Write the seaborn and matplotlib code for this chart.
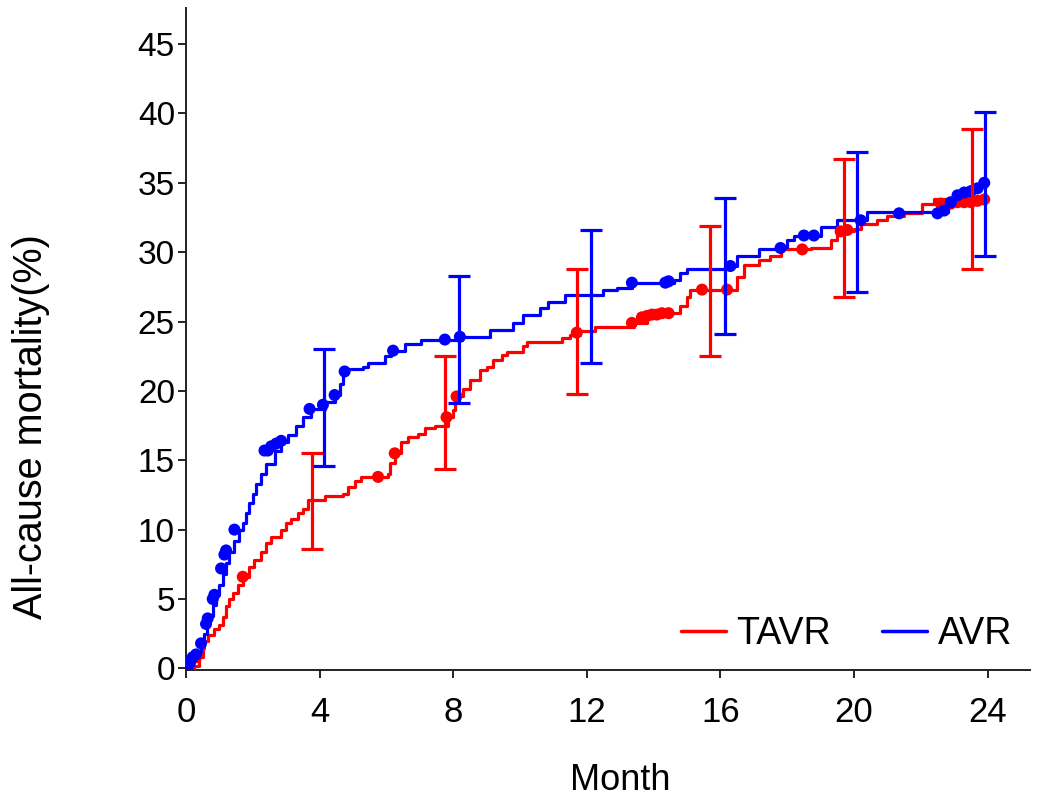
import matplotlib
matplotlib.use('Agg')
import matplotlib.pyplot as plt
from matplotlib.lines import Line2D
import seaborn as sns
import pandas as pd

# Kaplan-Meier style cumulative mortality (step change points)
tavr_t = [0, 0.25, 0.4, 0.5, 0.55, 0.65, 0.85, 1.0, 1.1, 1.2, 1.3, 1.4, 1.55, 1.7, 1.9, 2.05,
          2.25, 2.4, 2.55, 2.85, 3.0, 3.15, 3.35, 3.5, 3.65, 4.15, 4.7, 4.85, 5.05, 5.25, 6.05,
          6.1, 6.25, 6.45, 6.65, 6.95, 7.15, 7.45, 7.85, 8.0, 8.05, 8.3, 8.5, 8.8, 9.0, 9.2,
          9.45, 9.6, 10.1, 10.2, 11.25, 11.5, 11.8, 12.25, 13.4, 13.8, 14.2, 14.8, 15.0, 15.1,
          16.5, 16.7, 17.15, 17.5, 17.8, 18.7, 19.3, 19.5, 20.0, 20.2, 20.7, 21.0, 21.5, 22.05,
          22.4, 24.0]
tavr_y = [0, 0.2, 0.8, 1.5, 2.0, 2.4, 2.8, 3.1, 3.7, 4.5, 5.0, 5.4, 6.0, 6.6, 7.3, 7.8,
          8.4, 9.0, 9.5, 10.0, 10.5, 10.8, 11.2, 11.5, 12.1, 12.4, 12.6, 13.1, 13.5, 13.8, 14.0,
          14.8, 15.5, 16.3, 16.7, 16.9, 17.3, 17.5, 18.1, 18.6, 19.6, 20.1, 20.8, 21.5, 21.7, 22.2,
          22.6, 22.8, 23.2, 23.5, 23.8, 24.0, 24.3, 24.6, 24.9, 25.4, 25.6, 26.1, 26.8, 27.3,
          28.2, 29.1, 29.4, 29.7, 30.2, 30.3, 30.9, 31.5, 31.7, 32.0, 32.3, 32.6, 32.8, 33.5,
          33.8, 33.8]

avr_t = [0, 0.1, 0.2, 0.3, 0.45, 0.55, 0.62, 0.7, 0.8, 0.9, 1.0, 1.1, 1.2, 1.3, 1.45, 1.6,
         1.7, 1.8, 1.9, 2.0, 2.1, 2.25, 2.4, 2.65, 2.85, 3.05, 3.3, 3.5, 3.75, 4.15, 4.45, 4.6,
         4.7, 4.8, 5.3, 5.45, 5.95, 6.15, 6.55, 7.05, 8.25, 9.1, 9.8, 10.1, 10.6, 10.85, 11.35,
         12.5, 12.9, 13.35, 14.6, 14.8, 15.0, 16.3, 16.5, 17.15, 17.8, 18.0, 18.2, 19.0, 19.5,
         20.4, 22.8, 23.0, 23.4, 23.7, 23.9, 24.0]
avr_y = [0, 0.4, 0.8, 1.2, 1.8, 2.5, 3.2, 3.8, 4.6, 5.3, 6.0, 6.8, 7.6, 8.4, 9.2, 10.0,
         10.5, 11.2, 11.9, 12.6, 13.3, 14.0, 14.7, 15.7, 16.3, 16.8, 17.5, 18.1, 18.7, 19.2, 19.7, 20.5,
         21.3, 21.6, 21.7, 22.0, 22.5, 22.9, 23.4, 23.7, 23.9, 24.4, 24.9, 25.5, 26.0, 26.4, 26.9,
         27.3, 27.4, 27.8, 28.0, 28.5, 28.8, 29.0, 29.7, 30.2, 30.4, 30.9, 31.2, 31.8, 32.3,
         32.9, 33.4, 34.0, 34.4, 34.7, 35.0, 35.0]

# censored observations
tavr_cens_t = [0.1, 0.3, 1.7, 5.75, 6.25, 7.8, 8.1, 11.7, 13.35, 13.65, 13.8, 13.95, 14.1,
               14.25, 14.45, 15.45, 16.2, 18.45, 19.6, 19.8, 22.6, 22.9, 23.1, 23.3, 23.5, 23.7, 23.9]
tavr_cens_y = [0.1, 0.8, 6.6, 13.8, 15.5, 18.1, 19.6, 24.2, 24.9, 25.3, 25.4, 25.5, 25.5,
               25.6, 25.6, 27.3, 27.3, 30.2, 31.5, 31.6, 33.5, 33.5, 33.6, 33.6, 33.6, 33.7, 33.8]
avr_cens_t = [0.05, 0.12, 0.2, 0.3, 0.45, 0.6, 0.65, 0.8, 0.85, 1.05, 1.15, 1.2, 1.45, 2.35,
              2.45, 2.55, 2.7, 2.85, 3.7, 4.1, 4.45, 4.75, 6.2, 7.75, 8.2, 13.35, 14.35, 14.45,
              16.3, 17.8, 18.5, 18.8, 20.2, 21.35, 22.5, 22.7, 22.9, 23.1, 23.3, 23.5, 23.7, 23.9]
avr_cens_y = [0.0, 0.4, 0.8, 1.0, 1.8, 3.2, 3.6, 5.0, 5.3, 7.2, 8.2, 8.5, 10.0, 15.7,
              15.7, 16.0, 16.2, 16.4, 18.7, 19.0, 19.7, 21.4, 22.9, 23.7, 23.9, 27.8, 27.8, 27.9,
              29.0, 30.3, 31.2, 31.2, 32.3, 32.8, 32.8, 33.0, 33.6, 34.1, 34.3, 34.4, 34.6, 35.0]

# 95% CI at 4, 8, 12, 16, 20, 24 months (bars drawn slightly offset)
tavr_ci_x = [3.76, 7.76, 11.72, 15.7, 19.7, 23.52]
tavr_ci_mid = [12.1, 18.4, 24.1, 27.1, 31.4, 33.8]
tavr_ci_lo = [8.6, 14.4, 19.8, 22.5, 26.8, 28.8]
tavr_ci_hi = [15.5, 22.5, 28.8, 31.9, 36.7, 38.9]
avr_ci_x = [4.13, 8.17, 12.13, 16.15, 20.1, 23.92]
avr_ci_mid = [19.0, 23.8, 26.9, 29.0, 32.2, 34.9]
avr_ci_lo = [14.6, 19.1, 22.0, 24.1, 27.1, 29.7]
avr_ci_hi = [23.0, 28.3, 31.6, 33.9, 37.2, 40.1]

x_ticks = [0, 4, 8, 12, 16, 20, 24]
y_ticks = [0, 5, 10, 15, 20, 25, 30, 35, 40, 45]

RED = '#FF0000'
BLUE = '#0000FF'

sns.set_style('ticks')
plt.rcParams['font.family'] = ['Liberation Sans', 'DejaVu Sans']
plt.rcParams['text.color'] = 'black'
plt.rcParams['axes.labelcolor'] = 'black'
plt.rcParams['xtick.color'] = '#222222'
plt.rcParams['ytick.color'] = '#222222'
plt.rcParams['xtick.labelcolor'] = 'black'
plt.rcParams['ytick.labelcolor'] = 'black'

fig = plt.figure(figsize=(10.41, 7.97), dpi=100)
ax = fig.add_axes([186 / 1041, 1 - 670 / 797, (1030 - 186) / 1041, (670 - 8) / 797])

curves = pd.concat([
    pd.DataFrame({'Month': tavr_t, 'Mortality': tavr_y, 'Group': 'TAVR'}),
    pd.DataFrame({'Month': avr_t, 'Mortality': avr_y, 'Group': 'AVR'}),
])
cens = pd.concat([
    pd.DataFrame({'Month': tavr_cens_t, 'Mortality': tavr_cens_y, 'Group': 'TAVR'}),
    pd.DataFrame({'Month': avr_cens_t, 'Mortality': avr_cens_y, 'Group': 'AVR'}),
])
pal = {'TAVR': RED, 'AVR': BLUE}

sns.lineplot(data=curves, x='Month', y='Mortality', hue='Group', palette=pal,
             estimator=None, sort=False, drawstyle='steps-post', linewidth=2.3,
             legend=False, ax=ax, zorder=3)
sns.scatterplot(data=cens, x='Month', y='Mortality', hue='Group', palette=pal,
                s=75, linewidth=0, legend=False, ax=ax, zorder=4)

for xs, mid, lo, hi, c in [(tavr_ci_x, tavr_ci_mid, tavr_ci_lo, tavr_ci_hi, RED),
                           (avr_ci_x, avr_ci_mid, avr_ci_lo, avr_ci_hi, BLUE)]:
    yerr = [[m - l for m, l in zip(mid, lo)], [h - m for m, h in zip(mid, hi)]]
    ax.errorbar(xs, mid, yerr=yerr, fmt='none', ecolor=c, elinewidth=2.3,
                capsize=8, capthick=2.3, zorder=5)

ax.set_xlim(0, 25.27)
ax.set_ylim(-0.12, 47.6)
ax.set_xticks(x_ticks)
ax.set_yticks(y_ticks)
ax.tick_params(axis='both', direction='out', length=6, width=1.4)
ax.tick_params(axis='y', labelsize=24, pad=2)
ax.tick_params(axis='x', labelsize=25, pad=13)
for s in ['top', 'right']:
    ax.spines[s].set_visible(False)
for s in ['left', 'bottom']:
    ax.spines[s].set_linewidth(1.4)
    ax.spines[s].set_color('#222222')

ax.set_xlabel('Month', fontsize=26)
ax.xaxis.set_label_coords(0.514, -0.14)
ax.set_ylabel('All-cause mortality(%)', fontsize=28.5)
ax.yaxis.set_label_coords(-0.161, 0.367)

handles = [Line2D([0], [0], color=RED, lw=2.5), Line2D([0], [0], color=BLUE, lw=2.5)]
ax.legend(handles, ['TAVR', 'AVR'], loc='lower right', ncol=2, frameon=False,
          fontsize=27, handlelength=1.2, handletextpad=0.27, columnspacing=1.39,
          borderaxespad=0, bbox_to_anchor=(0.9964, 0.005))

fig.savefig('out.png', dpi=100)
